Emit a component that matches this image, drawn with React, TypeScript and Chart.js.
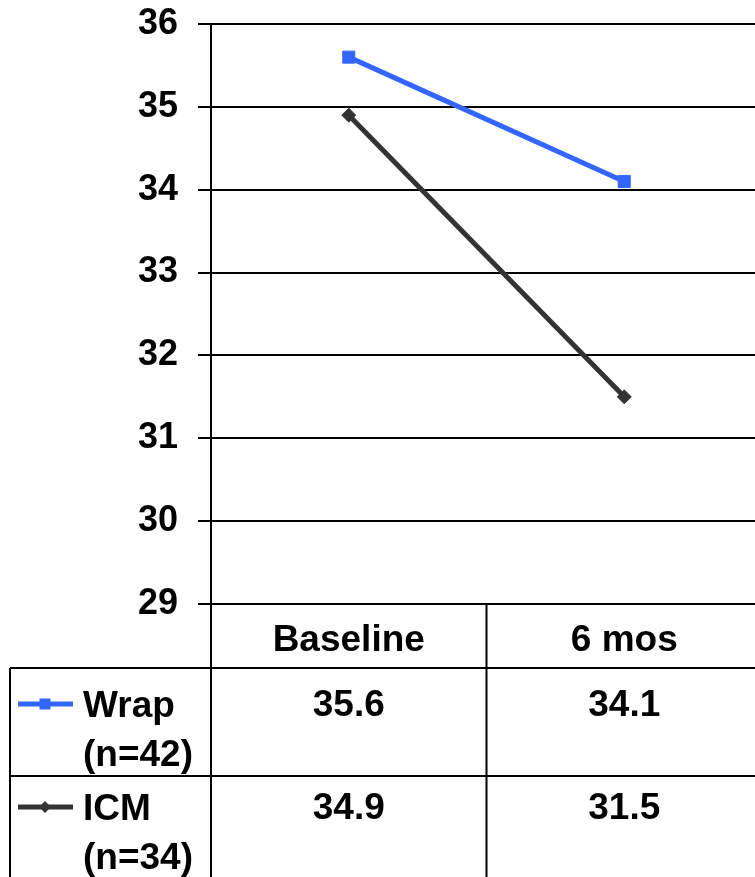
import React, { useEffect, useRef } from "react";
import { Chart, registerables } from "chart.js";

Chart.register(...registerables);

const categories = ["Baseline", "6 mos"];
const wrapValues = [35.6, 34.1];
const icmValues = [34.9, 31.5];
const seriesLabels = ["Wrap", "ICM"];
const seriesSubLabels = ["(n=42)", "(n=34)"];
const seriesColors = ["#3366FF", "#333333"];
const seriesMarkers = ["rect", "rectRot"];
const yMin = 29;
const yMax = 36;
const yStep = 1;

const FONT = "'Liberation Sans', Arial, Helvetica, sans-serif";
const CANVAS_W = 762;
const CANVAS_H = 877;

const tablePlugin = {
  id: "dataTable",
  afterDraw(chart: any) {
    const { ctx, chartArea } = chart;
    const xs = chart.scales.x;
    const left = chartArea.left;
    const right = chartArea.right;
    const top0 = chartArea.bottom;
    const c0 = xs.getPixelForValue(0);
    const c1 = xs.getPixelForValue(1);
    const centers = [c0, c1];
    const mid = (c0 + c1) / 2;
    const outerLeft = 10;
    const headerBottom = top0 + 64;
    const rowH = 108;
    const bottom = chart.height;

    ctx.save();
    ctx.strokeStyle = "#000";
    ctx.lineWidth = 2;
    ctx.beginPath();
    ctx.moveTo(left, top0);
    ctx.lineTo(left, bottom);
    ctx.moveTo(mid, top0);
    ctx.lineTo(mid, bottom);
    ctx.moveTo(right, top0);
    ctx.lineTo(right, bottom);
    ctx.moveTo(outerLeft, headerBottom);
    ctx.lineTo(outerLeft, bottom);
    ctx.moveTo(outerLeft, headerBottom);
    ctx.lineTo(right, headerBottom);
    ctx.moveTo(outerLeft, headerBottom + rowH);
    ctx.lineTo(right, headerBottom + rowH);
    ctx.stroke();

    ctx.fillStyle = "#000";
    ctx.font = `bold 37px ${FONT}`;
    ctx.textBaseline = "alphabetic";
    ctx.textAlign = "center";
    categories.forEach((c, i) => {
      ctx.fillText(c, centers[i], top0 + 47);
    });

    const datasets = chart.data.datasets;
    datasets.forEach((ds: any, r: number) => {
      const base1 = headerBottom + 49 + r * 103;
      const base2 = base1 + 49;
      ctx.fillStyle = "#000";
      ctx.textAlign = "center";
      ds.data.forEach((v: number, i: number) => {
        ctx.fillText(v.toFixed(1), centers[i], base1 - 1);
      });
      const ly = base1 - 13;
      ctx.strokeStyle = ds.borderColor;
      ctx.lineWidth = 5;
      ctx.beginPath();
      ctx.moveTo(18, ly);
      ctx.lineTo(73, ly);
      ctx.stroke();
      ctx.fillStyle = ds.borderColor;
      const mx = 45;
      if (ds.pointStyle === "rect") {
        ctx.fillRect(mx - 5.5, ly - 5.5, 11, 11);
      } else {
        ctx.beginPath();
        ctx.moveTo(mx - 6, ly);
        ctx.lineTo(mx, ly - 6);
        ctx.lineTo(mx + 6, ly);
        ctx.lineTo(mx, ly + 6);
        ctx.closePath();
        ctx.fill();
      }
      ctx.fillStyle = "#000";
      ctx.textAlign = "left";
      ctx.fillText(seriesLabels[r], 83, base1);
      ctx.fillText(seriesSubLabels[r], 83, base2);
    });
    ctx.restore();
  },
};

export default function App() {
  const canvasRef = useRef<HTMLCanvasElement | null>(null);

  useEffect(() => {
    const canvas = canvasRef.current;
    if (!canvas) return;
    Chart.defaults.font.family = FONT;
    const chart = new Chart(canvas, {
      type: "line",
      data: {
        labels: categories,
        datasets: [wrapValues, icmValues].map((vals, i) => ({
          label: seriesLabels[i],
          data: vals,
          borderColor: seriesColors[i],
          backgroundColor: seriesColors[i],
          borderWidth: 5,
          pointStyle: seriesMarkers[i],
          pointRadius: i === 0 ? 8.5 : 7,
          pointBorderWidth: 1,
          pointBackgroundColor: seriesColors[i],
          pointBorderColor: seriesColors[i],
          tension: 0,
          fill: false,
        })),
      },
      options: {
        animation: false,
        responsive: false,
        devicePixelRatio: 1,
        layout: {
          autoPadding: false,
          padding: { top: 24, left: 0, right: 0, bottom: 273 },
        },
        plugins: {
          legend: { display: false },
          tooltip: { enabled: false },
          title: { display: false },
        },
        scales: {
          x: {
            type: "category",
            display: false,
            offset: true,
          },
          y: {
            min: yMin,
            max: yMax,
            afterFit(scale: any) {
              scale.width = 211;
              scale.paddingTop = 0;
              scale.paddingBottom = 0;
            },
            ticks: {
              stepSize: yStep,
              color: "#000",
              padding: 20,
              font: { size: 36, weight: "bold", family: FONT },
            },
            grid: {
              color: "#000",
              lineWidth: 2,
              tickLength: 13,
              drawTicks: true,
            },
            border: { color: "#000", width: 2 },
          },
        },
      },
      plugins: [tablePlugin],
    });
    return () => chart.destroy();
  }, []);

  return (
    <div
      style={{
        position: "absolute",
        top: 0,
        left: 0,
        width: 755,
        height: 877,
        overflow: "hidden",
        background: "#fff",
      }}
    >
      <canvas
        ref={canvasRef}
        width={CANVAS_W}
        height={CANVAS_H}
        style={{ display: "block", width: CANVAS_W, height: CANVAS_H }}
      />
    </div>
  );
}
